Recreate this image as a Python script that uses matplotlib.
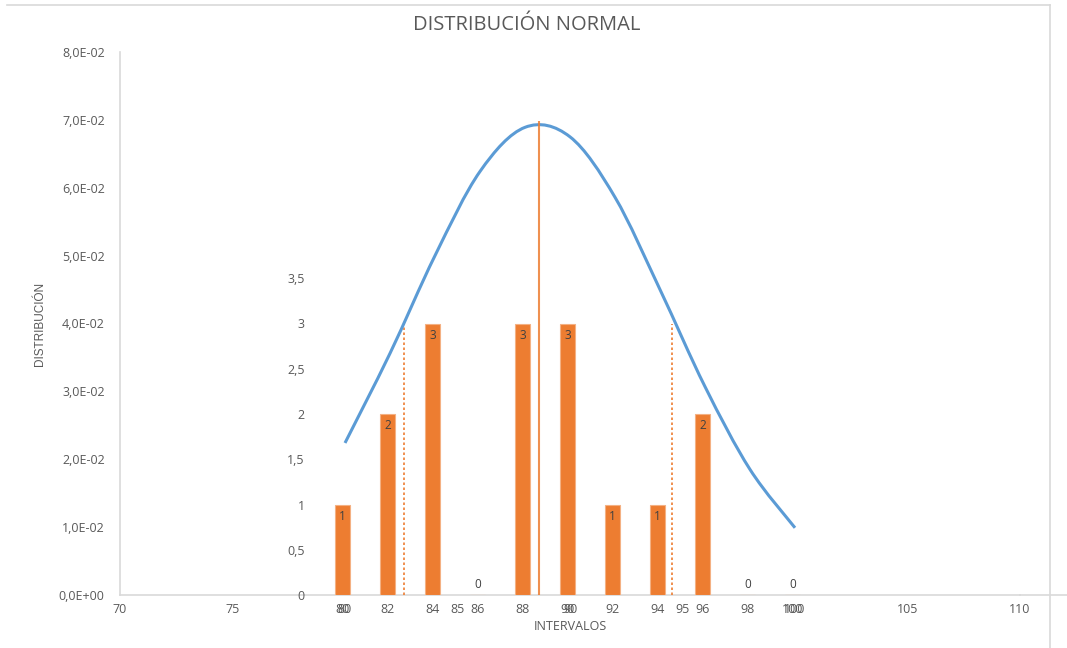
import numpy as np
import matplotlib
matplotlib.use('Agg')
import matplotlib.pyplot as plt
from matplotlib.path import Path
from matplotlib.patches import PathPatch
from matplotlib.lines import Line2D

plt.rcParams['font.family'] = ['Open Sans', 'DejaVu Sans']

# intervalos y frecuencias observadas
intervalos = [80, 82, 84, 86, 88, 90, 92, 94, 96, 98, 100]
frecuencias = [1, 2, 3, 0, 3, 3, 1, 1, 2, 0, 0]

# curva normal evaluada en cada intervalo
densidad = [0.0224, 0.0356, 0.0500, 0.0624, 0.0689, 0.0675, 0.0586, 0.0450, 0.0307, 0.0185, 0.0099]

# media y media +/- desviacion
media = 88.6
media_alto = 0.0699
lim_sigma = [82.6, 94.55]
lim_sigma_alto = [0.0400, 0.0400]

x_ticks = [70, 75, 80, 85, 90, 95, 100, 105, 110]
y_ticks = [0, 0.01, 0.02, 0.03, 0.04, 0.05, 0.06, 0.07, 0.08]
y2_ticks = [0, 0.5, 1, 1.5, 2, 2.5, 3, 3.5]

azul = '#5B9BD5'
naranja = '#ED7D31'
gris_txt = '#595959'
gris_eje = '#D9D9D9'

W, H = 1067, 648
fig = plt.figure(figsize=(W/100, H/100), dpi=100)

def px(l, t, r, b):
    return [l/W, 1-b/H, (r-l)/W, (b-t)/H]

# eje principal (densidad)
ax = fig.add_axes(px(120, 52, 1020, 595))
ax.set_xlim(70, 110)
ax.set_ylim(0, 0.08)
ax.set_xticks(x_ticks)
ax.set_xticklabels([str(v) for v in x_ticks])
ax.set_yticks(y_ticks)
ax.set_yticklabels([('%.1E' % v).replace('.', ',') for v in y_ticks])
ax.tick_params(length=0, colors=gris_txt, labelsize=9)
ax.tick_params(axis='x', pad=6)
ax.tick_params(axis='y', pad=11)
for s in ['top', 'right']:
    ax.spines[s].set_visible(False)
ax.spines['left'].set_color(gris_eje)
ax.spines['left'].set_linewidth(1.2)
ax.spines['bottom'].set_color(gris_eje)
ax.spines['bottom'].set_linewidth(1.2)
ax.patch.set_alpha(0)

# curva suavizada (bezier por tramos)
pts = np.column_stack([intervalos, densidad]).astype(float)
ext = np.vstack([pts[0], pts, pts[-1]])
verts = [pts[0]]
codes = [Path.MOVETO]
for i in range(len(pts)-1):
    p0, p1, p2, p3 = ext[i], ext[i+1], ext[i+2], ext[i+3]
    verts += [p1 + (p2-p0)/6, p2 - (p3-p1)/6, p2]
    codes += [Path.CURVE4]*3
ax.add_patch(PathPatch(Path(verts, codes), fc='none', ec=azul, lw=2.2, zorder=4))

ax.vlines(media, 0, media_alto, color=naranja, lw=1.5, alpha=0.85, zorder=5)
ax.vlines(lim_sigma, 0, lim_sigma_alto, color=naranja, lw=1.2, linestyles=(0, (1.5, 1.5)), zorder=3)

ax.set_xlabel('INTERVALOS', color=gris_txt, fontsize=9, labelpad=3)
ax.set_ylabel('DISTRIBUCIÓN', color=gris_txt, fontsize=8.5,
              family=['Liberation Sans Narrow', 'Liberation Sans', 'DejaVu Sans'], labelpad=9)

# eje secundario (frecuencias)
ax2 = fig.add_axes(px(320, 52, 815, 595))
ax2.set_xlim(-0.5, len(intervalos)-0.5)
ax2.set_ylim(0, 6)
pos = np.arange(len(intervalos))
ax2.bar(pos, frecuencias, width=0.33, color=naranja, edgecolor='#F4B183', lw=0.8, zorder=2)
for p, f in zip(pos, frecuencias):
    if f > 0:
        ax2.text(p, f-0.13, str(f), ha='center', va='center', fontsize=8.5, color='#404040')
    else:
        ax2.text(p, 0.12, str(f), ha='center', va='center', fontsize=8.5, color='#404040')
ax2.set_xticks(pos)
ax2.set_xticklabels([str(v) for v in intervalos])
ax2.set_yticks(y2_ticks)
ax2.set_yticklabels([('%g' % v).replace('.', ',') for v in y2_ticks])
ax2.tick_params(length=0, colors=gris_txt, labelsize=9)
ax2.tick_params(axis='x', pad=6)
ax2.tick_params(axis='y', pad=11)
for s in ax2.spines.values():
    s.set_visible(False)
ax2.patch.set_alpha(0)

fig.text(527/W, 1-25/H, 'DISTRIBUCIÓN NORMAL', ha='center', va='center', fontsize=14.5, color=gris_txt)

# marco del grafico
fig.add_artist(Line2D([7/W, 1050/W], [1-5/H, 1-5/H], color=gris_eje, lw=1.2))
fig.add_artist(Line2D([1050/W, 1050/W], [1-5/H, 0], color=gris_eje, lw=1.2))
fig.add_artist(Line2D([1020/W, 1], [1-595/H, 1-595/H], color=gris_eje, lw=1.2))

fig.savefig('out.png', dpi=100)
